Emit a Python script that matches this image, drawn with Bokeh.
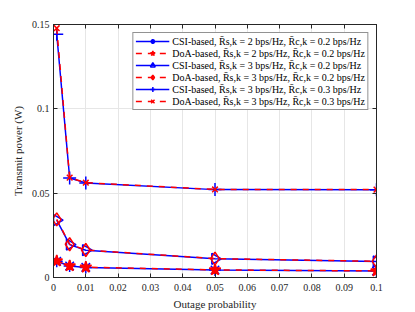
import math
from bokeh.plotting import figure
from bokeh.models import Range1d, LinearAxis, FixedTicker, Legend, LegendItem
from bokeh.embed import file_html
from bokeh.resources import INLINE

outage = [0.001, 0.005, 0.01, 0.05, 0.1]
csi_r2_c02 = [0.0096, 0.0068, 0.0060, 0.0044, 0.0038]
doa_r2_c02 = [0.0098, 0.0069, 0.0061, 0.0045, 0.0039]
csi_r3_c02 = [0.0340, 0.0195, 0.0162, 0.0111, 0.0095]
doa_r3_c02 = [0.0345, 0.0197, 0.0163, 0.0112, 0.0096]
csi_r3_c03 = [0.1442, 0.0590, 0.0561, 0.0521, 0.0520]
doa_r3_c03 = [0.1478, 0.0592, 0.0562, 0.0522, 0.0521]

labels = [
    "CSI-based, R̄s,k = 2 bps/Hz, R̄c,k = 0.2 bps/Hz",
    "DoA-based, R̄s,k = 2 bps/Hz, R̄c,k = 0.2 bps/Hz",
    "CSI-based, R̄s,k = 3 bps/Hz, R̄c,k = 0.2 bps/Hz",
    "DoA-based, R̄s,k = 3 bps/Hz, R̄c,k = 0.2 bps/Hz",
    "CSI-based, R̄s,k = 3 bps/Hz, R̄c,k = 0.3 bps/Hz",
    "DoA-based, R̄s,k = 3 bps/Hz, R̄c,k = 0.3 bps/Hz",
]
x_ticks = [0, 0.01, 0.02, 0.03, 0.04, 0.05, 0.06, 0.07, 0.08, 0.09, 0.1]
y_ticks = [0, 0.05, 0.1, 0.15]

FONT = "Liberation Serif"
BLUE = "#0000FF"
RED = "#FF0000"
AX = "#262626"

p = figure(width=415, height=312, output_backend="svg", toolbar_location=None,
           x_range=Range1d(0, 0.1), y_range=Range1d(0, 0.15),
           min_border_left=53, min_border_right=39, min_border_top=24, min_border_bottom=35,
           background_fill_color="white", border_fill_color="white")
p.outline_line_color = AX
p.outline_line_width = 1

for ax in [p.xaxis[0], p.yaxis[0]]:
    ax.major_label_text_font = FONT
    ax.major_label_text_font_size = "10px"
    ax.major_label_text_color = AX
    ax.axis_label_text_font = FONT
    ax.axis_label_text_font_size = "11px"
    ax.axis_label_text_font_style = "normal"
    ax.axis_label_text_color = AX
    ax.axis_line_color = AX
    ax.major_tick_line_color = AX
    ax.major_tick_in = 4
    ax.major_tick_out = 0
    ax.minor_tick_line_color = None
p.xaxis[0].ticker = FixedTicker(ticks=x_ticks)
p.yaxis[0].ticker = FixedTicker(ticks=y_ticks)
p.xaxis[0].major_label_overrides = {0: "0", 0.1: "0.1"}
p.yaxis[0].major_label_overrides = {0: "0", 0.1: "0.1"}
p.xaxis[0].axis_label = "Outage probability"
p.yaxis[0].axis_label = "Transmit power (W)"
p.xaxis[0].major_label_standoff = 6
p.yaxis[0].major_label_standoff = 4
p.xaxis[0].axis_label_standoff = 4
p.yaxis[0].axis_label_standoff = 5

top = LinearAxis(ticker=FixedTicker(ticks=x_ticks), major_label_text_color=None,
                 major_label_text_font_size="1px", major_tick_in=4, major_tick_out=0,
                 minor_tick_line_color=None, axis_line_color=AX, major_tick_line_color=AX)
right = LinearAxis(ticker=FixedTicker(ticks=y_ticks), major_label_text_color=None,
                   major_label_text_font_size="1px", major_tick_in=4, major_tick_out=0,
                   minor_tick_line_color=None, axis_line_color=AX, major_tick_line_color=AX)
p.add_layout(top, "above")
p.add_layout(right, "right")

p.xgrid.ticker = FixedTicker(ticks=x_ticks)
p.ygrid.ticker = FixedTicker(ticks=y_ticks)
p.grid.grid_line_color = "#e6e6e6"
p.grid.grid_line_width = 1

series = [
    (csi_r2_c02, BLUE, "solid", "asterisk", 0.0, 12),
    (doa_r2_c02, RED, "dashed", "star", 0.0, 12),
    (csi_r3_c02, BLUE, "solid", "triangle", -math.pi / 2, 11),
    (doa_r3_c02, RED, "dashed", "diamond", 0.0, 13),
    (csi_r3_c03, BLUE, "solid", "cross", 0.0, 13),
    (doa_r3_c03, RED, "dashed", "x", 0.0, 8),
]

items = []
for (vals, col, dash, mk, ang, sz), lab in zip(series, labels):
    r1 = p.line(outage, vals, line_color=col, line_width=1.5, line_dash=dash)
    fill = col if mk == "star" else None
    r2 = p.scatter(outage, vals, marker=mk, size=sz, angle=ang, line_color=col,
                   line_width=1.5, fill_color=fill)
    items.append(LegendItem(label=lab, renderers=[r1, r2]))

leg = Legend(items=items, location="top_right")
leg.label_text_font = FONT
leg.label_text_font_size = "10px"
leg.label_text_color = "#000000"
leg.label_height = 12
leg.glyph_height = 12
leg.glyph_width = 34
leg.spacing = 0
leg.padding = 2
leg.margin = 8
leg.label_standoff = 3
leg.border_line_color = AX
leg.border_line_width = 1
leg.background_fill_alpha = 1
p.add_layout(leg)

open("out.html", "w").write(file_html(p, INLINE))
